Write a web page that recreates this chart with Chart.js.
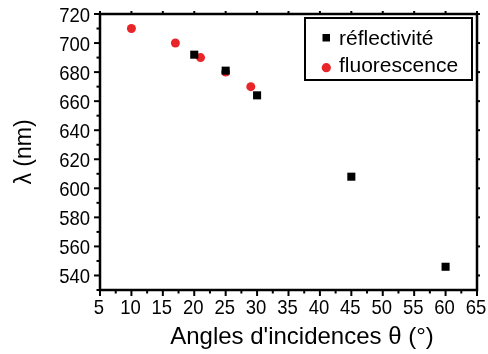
<!DOCTYPE html>
<html>
<head>
<meta charset="utf-8">
<script src="https://cdn.jsdelivr.net/npm/chart.js@4.4.0/dist/chart.umd.min.js"></script>
<style>
  html, body { margin: 0; padding: 0; background: #fff; }
  #wrap { width: 488px; height: 354px; }
</style>
</head>
<body>
<div id="wrap"><canvas id="chart"></canvas></div>
<script>
// Data
const reflAngles = [20, 25, 30, 45, 60];
const reflValues = [692, 681, 664, 608, 546];
const fluoAngles = [10, 17, 21, 25, 29];
const fluoValues = [710, 700, 690, 680, 670];
const xTickLabels = [5, 10, 15, 20, 25, 30, 35, 40, 45, 50, 55, 60, 65];
const yTickLabels = [540, 560, 580, 600, 620, 640, 660, 680, 700, 720];
const xTitle = "Angles d'incidences θ (°)";

const FONT = '"Liberation Sans", Arial, sans-serif';
const SQUEEZE = 0.88; // tick labels in the figure use a slightly narrow face

// draw a horizontally squeezed label
function narrowText(ctx, text, x, y, align) {
    ctx.save();
    ctx.translate(x, y);
    ctx.scale(SQUEEZE, 1);
    ctx.textAlign = align;
    ctx.fillText(text, 0, 0);
    ctx.restore();
}

// Axis frame, major/minor ticks, tick labels and the boxed legend
const framePlugin = {
    id: 'frame',
    afterDraw(chart) {
        const ctx = chart.ctx;
        const a = chart.chartArea;
        const xs = chart.scales.x;
        const ys = chart.scales.y;
        ctx.save();
        ctx.strokeStyle = '#000';
        ctx.lineWidth = 2;

        // x ticks (major every 5, minor every 2.5)
        for (let v = 5; v <= 65; v += 2.5) {
            const px = xs.getPixelForValue(v);
            const major = v % 5 === 0;
            ctx.beginPath();
            ctx.moveTo(px, a.bottom);
            ctx.lineTo(px, a.bottom + (major ? 6 : 3.5));
            ctx.stroke();
            if (major) {
                ctx.beginPath();
                ctx.moveTo(px, a.top);
                ctx.lineTo(px, a.top - 3);
                ctx.stroke();
            }
        }
        // y ticks (major every 20, minor every 10)
        for (let v = 530; v <= 720; v += 10) {
            const py = ys.getPixelForValue(v);
            const major = v % 20 === 0;
            ctx.beginPath();
            ctx.moveTo(a.left, py);
            ctx.lineTo(a.left - (major ? 6 : 3.5), py);
            ctx.stroke();
            if (major) {
                ctx.beginPath();
                ctx.moveTo(a.right, py);
                ctx.lineTo(a.right + 3, py);
                ctx.stroke();
            }
        }

        // frame
        ctx.lineWidth = 2.5;
        ctx.strokeRect(a.left, a.top, a.right - a.left, a.bottom - a.top);

        // tick labels
        ctx.fillStyle = '#000';
        ctx.font = '21px ' + FONT;
        ctx.textBaseline = 'alphabetic';
        xTickLabels.forEach(v => {
            narrowText(ctx, String(v), xs.getPixelForValue(v) - 1, a.bottom + 24, 'center');
        });
        yTickLabels.forEach(v => {
            narrowText(ctx, String(v), a.left - 10, ys.getPixelForValue(v) + 7.5, 'right');
        });

        // x title (sits a little right of the plot centre in the figure)
        ctx.font = '24px ' + FONT;
        ctx.textAlign = 'center';
        ctx.fillText(xTitle, 302, 344);

        // legend
        const lx = 305, ly = 18, lw = 167, lh = 62;
        ctx.fillStyle = '#fff';
        ctx.fillRect(lx, ly, lw, lh);
        ctx.lineWidth = 2;
        ctx.strokeRect(lx, ly, lw, lh);
        ctx.fillStyle = '#000';
        ctx.fillRect(322.5, 34, 7.5, 7.5);
        ctx.fillStyle = '#e8262a';
        ctx.beginPath();
        ctx.arc(326.3, 67.7, 4.6, 0, Math.PI * 2);
        ctx.fill();
        ctx.fillStyle = '#000';
        ctx.font = '21px ' + FONT;
        ctx.textAlign = 'left';
        ctx.fillText('réflectivité', 339, 45);
        ctx.fillText('fluorescence', 339, 72);
        ctx.restore();
    }
};

document.addEventListener('DOMContentLoaded', function() {
    const ctx = document.getElementById('chart');
    new Chart(ctx, {
        type: 'scatter',
        data: {
            datasets: [{
                label: 'réflectivité',
                data: reflAngles.map((x, i) => ({ x: x, y: reflValues[i] })),
                pointStyle: 'rect',
                pointRadius: 5.7,
                backgroundColor: '#000',
                borderWidth: 0
            }, {
                label: 'fluorescence',
                data: fluoAngles.map((x, i) => ({ x: x, y: fluoValues[i] })),
                pointStyle: 'circle',
                pointRadius: 4.5,
                backgroundColor: '#e8262a',
                borderWidth: 0
            }]
        },
        options: {
            responsive: true,
            maintainAspectRatio: false,
            animation: false,
            layout: { padding: { top: 14, right: 11, left: 0, bottom: 0 } },
            plugins: {
                legend: { display: false },
                tooltip: { enabled: false }
            },
            scales: {
                x: {
                    type: 'linear',
                    min: 5,
                    max: 65,
                    afterBuildTicks: s => { s.ticks = xTickLabels.map(v => ({ value: v })); },
                    afterFit: s => { s.height = 64; },
                    grid: { display: false, drawTicks: false },
                    border: { display: false },
                    ticks: { display: false },
                    title: { display: false }
                },
                y: {
                    type: 'linear',
                    min: 530,
                    max: 720,
                    afterBuildTicks: s => { s.ticks = yTickLabels.map(v => ({ value: v })); },
                    afterFit: s => { s.width = 100; },
                    grid: { display: false, drawTicks: false },
                    border: { display: false },
                    ticks: { display: false },
                    title: {
                        display: true,
                        text: 'λ (nm)',
                        color: '#000',
                        font: { family: FONT, size: 23 },
                        padding: { top: 11, bottom: 0 }
                    }
                }
            }
        },
        plugins: [framePlugin]
    });
});
</script>
</body>
</html>
